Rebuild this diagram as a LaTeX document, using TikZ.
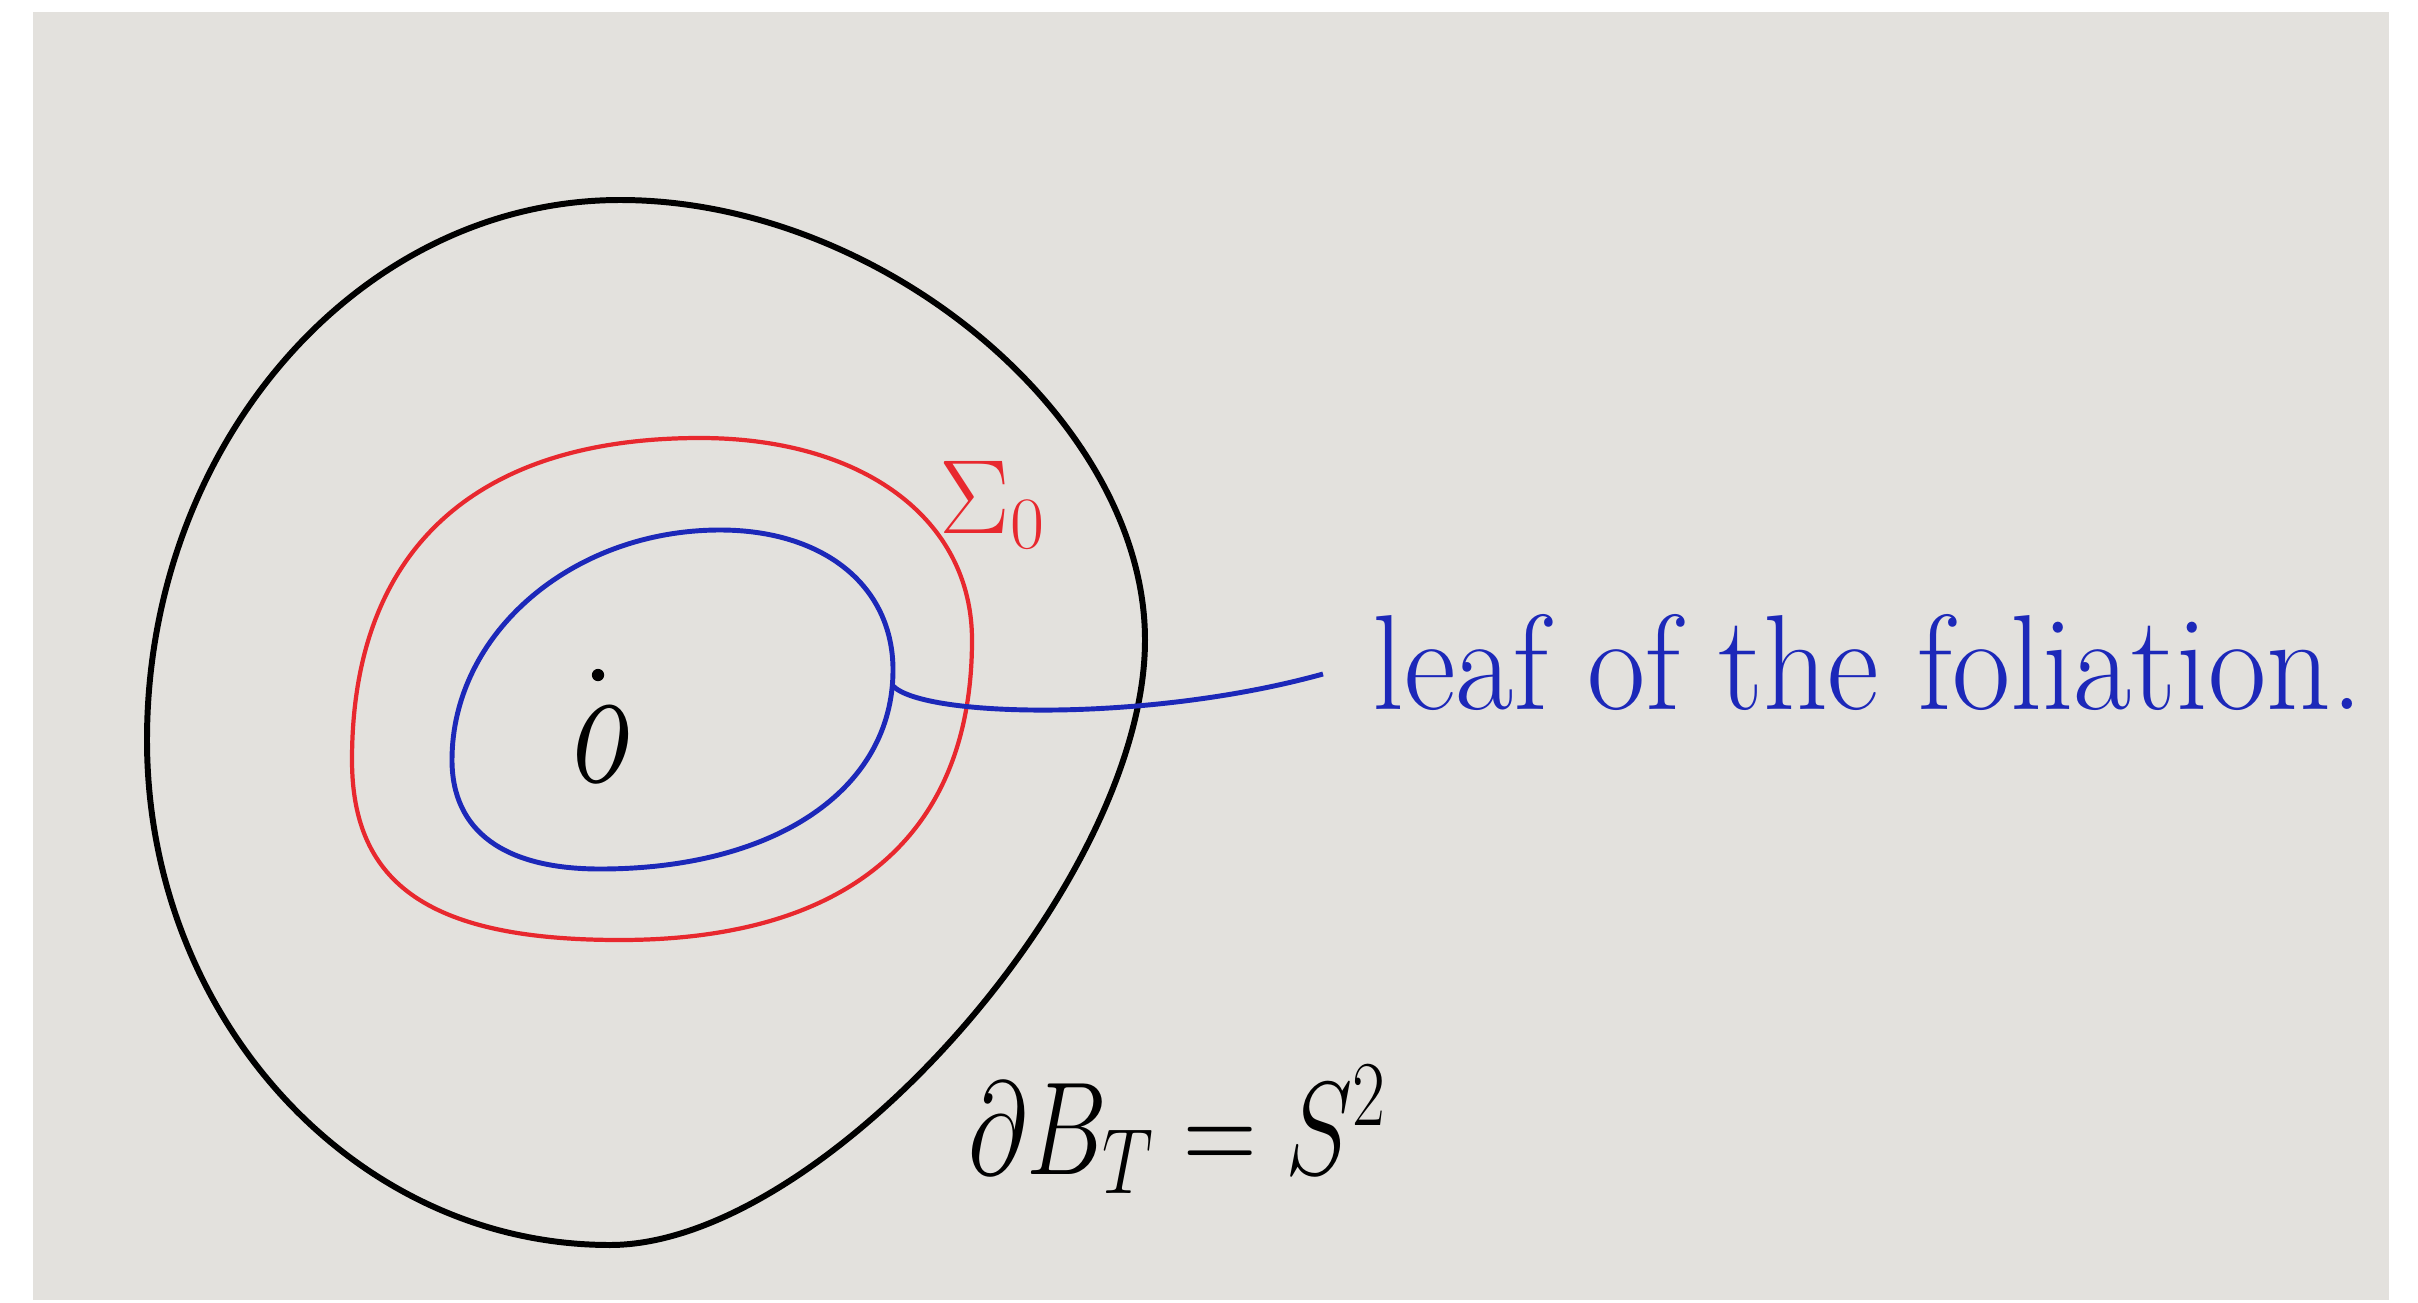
\RequirePackage{fix-cm}
\documentclass[tikz,border=0pt]{standalone}
\usepackage{amsmath,amssymb}

\definecolor{paper}{RGB}{227,225,221}
\definecolor{penred}{RGB}{232,40,46}
\definecolor{penblue}{RGB}{28,40,185}

\begin{document}
\begin{tikzpicture}[
  x=0.01cm, y=-0.01cm,
  ball/.style={line width=1.7pt, black, line join=round},
  sigma/.style={line width=1.2pt, penred},
  leafcurve/.style={line width=1.4pt, penblue},
  hand/.style={inner sep=0pt}
]

% Paper
\useasboundingbox (0,0) rectangle (2418,1303);
\fill[paper] (33,12) rectangle (2389,1300);

% Curves
\draw[ball] (620,200) .. controls (882,200) and (1145,420) .. (1145,640)
  .. controls (1145,882) and (824,1245) .. (610,1245)
  .. controls (355,1245) and (147,1018) .. (147,740)
  .. controls (147,443) and (360,200) .. cycle;
\draw[sigma] (700,438) .. controls (863,438) and (972,519) .. (972,640)
  .. controls (972,835) and (849,940) .. (620,940)
  .. controls (432,940) and (352,886) .. (352,760)
  .. controls (352,551) and (474,438) .. cycle;
\draw[leafcurve] (720,530) .. controls (824,530) and (893,586) .. (893,670)
  .. controls (893,789) and (776,869) .. (600,869)
  .. controls (504,869) and (452,831) .. (452,760)
  .. controls (452,633) and (573,530) .. cycle;

% Nodes
\node[circle, fill=black, inner sep=0pt, minimum size=3.5pt] (o) at (598,675) {};
\node[hand, font=\fontsize{50}{50}\selectfont, xscale=0.7] (olabel) at (601,745) {$o$};
\node[hand, penred, font=\fontsize{30}{34}\selectfont] (sigmalabel) at (993,505) {$\Sigma_0$};
\node[hand, font=\fontsize{29}{34}\selectfont, yscale=1.3] (bdry) at (1178,1130) {$\partial B_T = S^2$};
\node[hand, penblue, anchor=base west, font=\fontsize{36}{40}\selectfont, yscale=1.07] (leaf) at (1372,709) {leaf of the foliation.};

% Leaf connector
\coordinate (tip) at (893,686);
\coordinate (lend) at (1323,674);
\draw[leafcurve] (tip) .. controls (925,718) and (1150,722) .. (lend);

\end{tikzpicture}
\end{document}
